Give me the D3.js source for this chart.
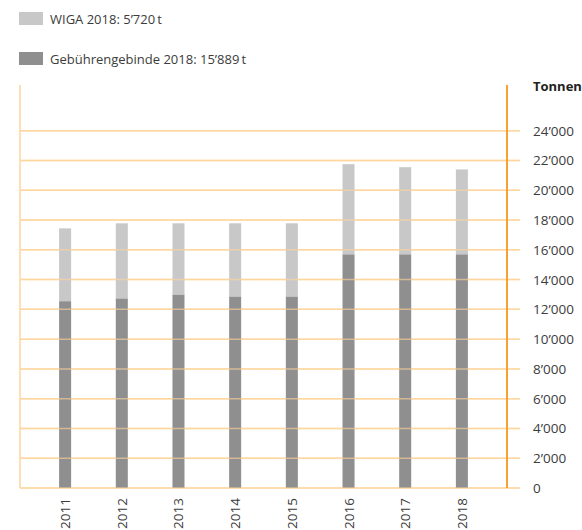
<!DOCTYPE html>
<html>
<head>
<meta charset="utf-8">
<script src="https://cdn.jsdelivr.net/npm/d3@7"></script>
<style>
	body { margin: 0; background: #fff; }
	text { font-family: "Open Sans", "DejaVu Sans", sans-serif; fill: #3c3c3c; }
</style>
</head>
<body>
<div id="plot"></div>
<script>
// values (tonnes)
var years = ["2011", "2012", "2013", "2014", "2015", "2016", "2017", "2018"]
var gebuehr = [12550, 12740, 13000, 12870, 12870, 15700, 15700, 15700]
var wiga = [4890, 5040, 4780, 4910, 4910, 6050, 5850, 5700]
var ticks = [0, 2000, 4000, 6000, 8000, 10000, 12000, 14000, 16000, 18000, 20000, 22000, 24000]
var legendLabels = ["WIGA 2018: 5\u2019720\u2009t", "Geb\u00fchrengebinde 2018: 15\u2019889\u2009t"]

var width = 582, height = 530
var plotLeft = 20, axisX = 507, gridEnd = 520, plotTop = 85, plotBottom = 488

var svg = d3.select("#plot")
	.append("svg")
		.attr("width", width)
		.attr("height", height)

var x = d3.scaleBand()
	.domain(years)
	.range([plotLeft, axisX])
	.paddingInner(0.788)
	.paddingOuter(0.69)

var y = d3.scaleLinear()
	.domain([0, 24000])
	.range([plotBottom, 130.7])

var fmt = function(v){ return v == 0 ? "0" : d3.format(",")(v).replace(",", "\u2019") }

// gridlines
ticks.forEach(function(t){
	svg.append("line")
		.attr("x1", plotLeft)
		.attr("x2", gridEnd)
		.attr("y1", y(t))
		.attr("y2", y(t))
		.attr("stroke", "#fed69e")
		.attr("stroke-width", 1.5)
	svg.append("text")
		.attr("x", 533)
		.attr("y", y(t) + 5)
		.style("font-size", "13.5px")
		.text(fmt(t))
})

// left frame line
svg.append("line")
	.attr("x1", plotLeft).attr("x2", plotLeft)
	.attr("y1", plotTop).attr("y2", plotBottom)
	.attr("stroke", "#fed69e")
	.attr("stroke-width", 1.5)

// stacked bars
var stack = years.map(function(d, i){ return {year: d, a: gebuehr[i], b: wiga[i]} })
svg.append("g").selectAll("rect.a")
	.data(stack)
	.enter()
	.append("rect")
		.attr("x", function(d){ return x(d.year) })
		.attr("width", x.bandwidth())
		.attr("y", function(d){ return y(d.a) })
		.attr("height", function(d){ return y(0) - y(d.a) })
		.attr("fill", "#8f8f8f")
svg.append("g").selectAll("rect.b")
	.data(stack)
	.enter()
	.append("rect")
		.attr("x", function(d){ return x(d.year) })
		.attr("width", x.bandwidth())
		.attr("y", function(d){ return y(d.a + d.b) })
		.attr("height", function(d){ return y(d.a) - y(d.a + d.b) })
		.attr("fill", "#c8c8c8")

// redraw gridlines faintly over bars like the original
ticks.forEach(function(t){
	svg.append("line")
		.attr("x1", plotLeft)
		.attr("x2", gridEnd)
		.attr("y1", y(t))
		.attr("y2", y(t))
		.attr("stroke", "#fed69e")
		.attr("stroke-opacity", 0.6)
		.attr("stroke-width", 1.5)
})

// right axis
svg.append("line")
	.attr("x1", axisX).attr("x2", axisX)
	.attr("y1", plotTop).attr("y2", plotBottom)
	.attr("stroke", "#f7a130")
	.attr("stroke-width", 2)

svg.append("text")
	.attr("x", 533)
	.attr("y", 91)
	.style("font-size", "13px")
	.style("font-weight", "bold")
	.style("fill", "#222")
	.text("Tonnen")

// year labels
years.forEach(function(d){
	var cx = x(d) + x.bandwidth() / 2
	svg.append("text")
		.attr("transform", "translate(" + (cx + 5) + ",498) rotate(-90)")
		.attr("text-anchor", "end")
		.style("font-size", "13.5px")
		.text(d)
})

// legend
var legColors = ["#c8c8c8", "#8f8f8f"]
legendLabels.forEach(function(l, i){
	svg.append("rect")
		.attr("x", 19)
		.attr("y", 12 + i * 40)
		.attr("width", 24)
		.attr("height", 13)
		.attr("fill", legColors[i])
	svg.append("text")
		.attr("x", 50)
		.attr("y", 24 + i * 40)
		.style("font-size", "13px")
		.text(l)
})
</script>
</body>
</html>
